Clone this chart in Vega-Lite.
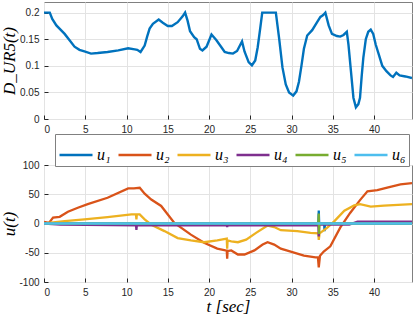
{
  "$schema": "https://vega.github.io/schema/vega-lite/v6.json",
  "padding": {"left": 0, "top": 1, "right": 1, "bottom": 0},
  "background": "white",
  "spacing": 46,
  "bounds": "flush",
  "datasets": {
    "top": [
      {"t": 0, "v": 0.2}, {"t": 0.7, "v": 0.2}, {"t": 1.0, "v": 0.188}, {"t": 1.5, "v": 0.176}, {"t": 2.0, "v": 0.168},
      {"t": 2.5, "v": 0.16}, {"t": 3.1, "v": 0.148}, {"t": 3.7, "v": 0.136}, {"t": 4.3, "v": 0.13}, {"t": 4.9, "v": 0.127},
      {"t": 5.7, "v": 0.123}, {"t": 6.5, "v": 0.124}, {"t": 7.7, "v": 0.126}, {"t": 9.0, "v": 0.129}, {"t": 10.2, "v": 0.133},
      {"t": 11.0, "v": 0.131}, {"t": 11.3, "v": 0.13}, {"t": 11.7, "v": 0.126}, {"t": 12.2, "v": 0.138}, {"t": 12.5, "v": 0.155},
      {"t": 12.8, "v": 0.17}, {"t": 13.2, "v": 0.179}, {"t": 13.9, "v": 0.187}, {"t": 14.4, "v": 0.181}, {"t": 15.0, "v": 0.175},
      {"t": 15.5, "v": 0.175}, {"t": 16.2, "v": 0.182}, {"t": 16.8, "v": 0.193}, {"t": 17.1, "v": 0.2}, {"t": 17.4, "v": 0.185},
      {"t": 17.7, "v": 0.165}, {"t": 18.2, "v": 0.154}, {"t": 18.5, "v": 0.15}, {"t": 18.9, "v": 0.132}, {"t": 19.2, "v": 0.129},
      {"t": 19.7, "v": 0.136}, {"t": 20.3, "v": 0.159}, {"t": 20.9, "v": 0.148}, {"t": 21.5, "v": 0.135}, {"t": 21.9, "v": 0.126},
      {"t": 22.4, "v": 0.124}, {"t": 22.9, "v": 0.123}, {"t": 23.4, "v": 0.128}, {"t": 24.0, "v": 0.146}, {"t": 24.3, "v": 0.127},
      {"t": 24.8, "v": 0.107}, {"t": 25.2, "v": 0.101}, {"t": 25.6, "v": 0.11}, {"t": 25.9, "v": 0.135}, {"t": 26.2, "v": 0.17},
      {"t": 26.45, "v": 0.2}, {"t": 28.1, "v": 0.2}, {"t": 28.5, "v": 0.151}, {"t": 28.9, "v": 0.097}, {"t": 29.3, "v": 0.065},
      {"t": 29.7, "v": 0.05}, {"t": 30.2, "v": 0.044}, {"t": 30.6, "v": 0.052}, {"t": 30.9, "v": 0.07}, {"t": 31.2, "v": 0.1},
      {"t": 31.5, "v": 0.132}, {"t": 31.9, "v": 0.157}, {"t": 32.5, "v": 0.167}, {"t": 33.1, "v": 0.182}, {"t": 33.5, "v": 0.192},
      {"t": 33.8, "v": 0.195}, {"t": 34.1, "v": 0.2}, {"t": 34.5, "v": 0.176}, {"t": 34.9, "v": 0.16}, {"t": 35.5, "v": 0.156},
      {"t": 35.9, "v": 0.155}, {"t": 36.3, "v": 0.158}, {"t": 36.7, "v": 0.164}, {"t": 36.9, "v": 0.14}, {"t": 37.2, "v": 0.09},
      {"t": 37.5, "v": 0.04}, {"t": 37.8, "v": 0.022}, {"t": 38.1, "v": 0.028}, {"t": 38.3, "v": 0.04}, {"t": 38.5, "v": 0.08},
      {"t": 38.7, "v": 0.115}, {"t": 39.0, "v": 0.15}, {"t": 39.3, "v": 0.164}, {"t": 39.6, "v": 0.168}, {"t": 39.9, "v": 0.16},
      {"t": 40.2, "v": 0.14}, {"t": 40.6, "v": 0.12}, {"t": 41.0, "v": 0.1}, {"t": 41.5, "v": 0.09}, {"t": 42.0, "v": 0.082},
      {"t": 42.3, "v": 0.079}, {"t": 42.7, "v": 0.087}, {"t": 43.1, "v": 0.082}, {"t": 43.8, "v": 0.08}, {"t": 44.6, "v": 0.077}
    ],
    "bot": [
      {"s": "u₁", "t": 0, "v": 0}, {"s": "u₁", "t": 33.25, "v": 0}, {"s": "u₁", "t": 33.3, "v": 22}, {"s": "u₁", "t": 33.35, "v": 0},
      {"s": "u₁", "t": 33.95, "v": 0}, {"s": "u₁", "t": 34.0, "v": -13}, {"s": "u₁", "t": 34.05, "v": 0}, {"s": "u₁", "t": 44.6, "v": 0},

      {"s": "u₂", "t": 0, "v": 3}, {"s": "u₂", "t": 0.6, "v": 1}, {"s": "u₂", "t": 1.1, "v": 10}, {"s": "u₂", "t": 1.9, "v": 11.5},
      {"s": "u₂", "t": 2.9, "v": 20}, {"s": "u₂", "t": 4.1, "v": 27}, {"s": "u₂", "t": 5.3, "v": 33}, {"s": "u₂", "t": 7.7, "v": 44},
      {"s": "u₂", "t": 10.2, "v": 60}, {"s": "u₂", "t": 10.9, "v": 60}, {"s": "u₂", "t": 11.6, "v": 61}, {"s": "u₂", "t": 12.2, "v": 51},
      {"s": "u₂", "t": 13.0, "v": 41}, {"s": "u₂", "t": 14.2, "v": 30}, {"s": "u₂", "t": 15.8, "v": 1}, {"s": "u₂", "t": 17.8, "v": -19},
      {"s": "u₂", "t": 19.4, "v": -33}, {"s": "u₂", "t": 21.0, "v": -43}, {"s": "u₂", "t": 22.15, "v": -46.5}, {"s": "u₂", "t": 22.2, "v": -60},
      {"s": "u₂", "t": 22.25, "v": -47}, {"s": "u₂", "t": 22.7, "v": -46}, {"s": "u₂", "t": 23.5, "v": -53}, {"s": "u₂", "t": 24.3, "v": -53},
      {"s": "u₂", "t": 25.5, "v": -46}, {"s": "u₂", "t": 26.5, "v": -36}, {"s": "u₂", "t": 27.1, "v": -32}, {"s": "u₂", "t": 27.9, "v": -36},
      {"s": "u₂", "t": 28.7, "v": -43}, {"s": "u₂", "t": 29.9, "v": -48}, {"s": "u₂", "t": 31.5, "v": -55}, {"s": "u₂", "t": 32.9, "v": -58},
      {"s": "u₂", "t": 33.2, "v": -58}, {"s": "u₂", "t": 33.3, "v": -75}, {"s": "u₂", "t": 33.45, "v": -55}, {"s": "u₂", "t": 33.9, "v": -48},
      {"s": "u₂", "t": 34.7, "v": -39}, {"s": "u₂", "t": 35.9, "v": -7}, {"s": "u₂", "t": 37.1, "v": 18}, {"s": "u₂", "t": 38.3, "v": 40},
      {"s": "u₂", "t": 39.2, "v": 55}, {"s": "u₂", "t": 40.4, "v": 57}, {"s": "u₂", "t": 41.6, "v": 61.5}, {"s": "u₂", "t": 43.2, "v": 67},
      {"s": "u₂", "t": 44.6, "v": 69},

      {"s": "u₃", "t": 0, "v": 0}, {"s": "u₃", "t": 2.5, "v": 4}, {"s": "u₃", "t": 4.9, "v": 7}, {"s": "u₃", "t": 7.7, "v": 11},
      {"s": "u₃", "t": 10.6, "v": 15.5}, {"s": "u₃", "t": 11.15, "v": 15.5}, {"s": "u₃", "t": 11.2, "v": 7}, {"s": "u₃", "t": 11.25, "v": 15.5},
      {"s": "u₃", "t": 11.6, "v": 15.5}, {"s": "u₃", "t": 12.2, "v": 7}, {"s": "u₃", "t": 13.0, "v": -2}, {"s": "u₃", "t": 14.6, "v": -13},
      {"s": "u₃", "t": 16.2, "v": -25}, {"s": "u₃", "t": 17.8, "v": -29}, {"s": "u₃", "t": 19.4, "v": -32}, {"s": "u₃", "t": 21.0, "v": -29},
      {"s": "u₃", "t": 22.15, "v": -26}, {"s": "u₃", "t": 22.2, "v": -43}, {"s": "u₃", "t": 22.25, "v": -29}, {"s": "u₃", "t": 22.7, "v": -30.5},
      {"s": "u₃", "t": 23.5, "v": -32}, {"s": "u₃", "t": 24.5, "v": -27.6}, {"s": "u₃", "t": 25.7, "v": -16}, {"s": "u₃", "t": 27.1, "v": -3.5},
      {"s": "u₃", "t": 27.9, "v": -6}, {"s": "u₃", "t": 28.7, "v": -11.5}, {"s": "u₃", "t": 30.7, "v": -13}, {"s": "u₃", "t": 32.3, "v": -16},
      {"s": "u₃", "t": 33.25, "v": -17}, {"s": "u₃", "t": 33.3, "v": -28}, {"s": "u₃", "t": 33.4, "v": -17}, {"s": "u₃", "t": 34.3, "v": -7.5},
      {"s": "u₃", "t": 35.2, "v": 4}, {"s": "u₃", "t": 36.4, "v": 22}, {"s": "u₃", "t": 37.6, "v": 31}, {"s": "u₃", "t": 38.3, "v": 33},
      {"s": "u₃", "t": 39.6, "v": 29}, {"s": "u₃", "t": 41.2, "v": 30.5}, {"s": "u₃", "t": 44.6, "v": 33},

      {"s": "u₄", "t": 0, "v": 0}, {"s": "u₄", "t": 2, "v": -2}, {"s": "u₄", "t": 11.15, "v": -3}, {"s": "u₄", "t": 11.2, "v": -11},
      {"s": "u₄", "t": 11.25, "v": -3}, {"s": "u₄", "t": 22.15, "v": -3}, {"s": "u₄", "t": 22.2, "v": -6}, {"s": "u₄", "t": 22.25, "v": -3},
      {"s": "u₄", "t": 33.25, "v": -3}, {"s": "u₄", "t": 33.3, "v": -22}, {"s": "u₄", "t": 33.35, "v": -2}, {"s": "u₄", "t": 37, "v": -2},
      {"s": "u₄", "t": 38, "v": 3}, {"s": "u₄", "t": 44.6, "v": 3},

      {"s": "u₅", "t": 0, "v": 0}, {"s": "u₅", "t": 33.25, "v": 0}, {"s": "u₅", "t": 33.3, "v": 17}, {"s": "u₅", "t": 33.33, "v": -18},
      {"s": "u₅", "t": 33.38, "v": 0}, {"s": "u₅", "t": 44.6, "v": 0},

      {"s": "u₆", "t": 0, "v": 0}, {"s": "u₆", "t": 44.6, "v": 0}
    ]
  },
  "config": {
    "view": {"stroke": "#808080", "strokeWidth": 1},
    "axis": {
      "labelFont": "Liberation Sans", "labelFontSize": 10, "labelColor": "#262626",
      "grid": true, "gridColor": "#e3e3e3", "gridWidth": 1,
      "domain": false, "ticks": true, "tickColor": "#262626", "tickSize": -4, "labelPadding": 9,
      "titleFont": "Liberation Serif", "titleFontStyle": "italic", "titleFontWeight": "normal",
      "titleFontSize": 17, "titleColor": "#000000"
    }
  },
  "vconcat": [
    {
      "data": {"name": "top"},
      "width": 368, "height": 117,
      "mark": {"type": "line", "color": "#0072BD", "strokeWidth": 2.4, "clip": true},
      "encoding": {
        "x": {"field": "t", "type": "quantitative", "scale": {"domain": [0, 44.6], "nice": false},
              "axis": {"values": [0, 5, 10, 15, 20, 25, 30, 35, 40], "title": null}},
        "y": {"field": "v", "type": "quantitative", "scale": {"domain": [0, 0.22], "nice": false},
              "axis": {"values": [0, 0.05, 0.1, 0.15, 0.2], "labelExpr": "'' + datum.value", "title": "D_UR5(t)", "titlePadding": 1}}
      }
    },
    {
      "data": {"name": "bot"},
      "width": 368, "height": 117,
      "mark": {"type": "line", "strokeWidth": 2.3, "clip": true},
      "encoding": {
        "x": {"field": "t", "type": "quantitative", "scale": {"domain": [0, 44.6], "nice": false},
              "axis": {"values": [0, 5, 10, 15, 20, 25, 30, 35, 40], "title": "t [sec]", "titlePadding": 1}},
        "y": {"field": "v", "type": "quantitative", "scale": {"domain": [-100, 100], "nice": false},
              "axis": {"values": [-100, -50, 0, 50, 100], "labelExpr": "'' + datum.value", "title": "u(t)", "titlePadding": 0}},
        "color": {"field": "s", "type": "nominal",
                  "scale": {"domain": ["u₁", "u₂", "u₃", "u₄", "u₅", "u₆"], "range": ["#0072BD", "#D95319", "#EDB120", "#7E2F8E", "#77AC30", "#4DBEEE"]},
                  "legend": {"orient": "none", "legendX": 11, "legendY": 132, "direction": "horizontal", "columns": 6, "title": null,
                             "symbolType": "stroke", "symbolSize": 1089, "symbolStrokeWidth": 2.5,
                             "labelFont": "Liberation Serif", "labelFontStyle": "italic", "labelFontSize": 16, "labelColor": "#000000",
                             "labelOffset": 3, "columnPadding": 2, "padding": 3, "strokeColor": "#808080", "fillColor": "white"}}
      }
    }
  ]
}
